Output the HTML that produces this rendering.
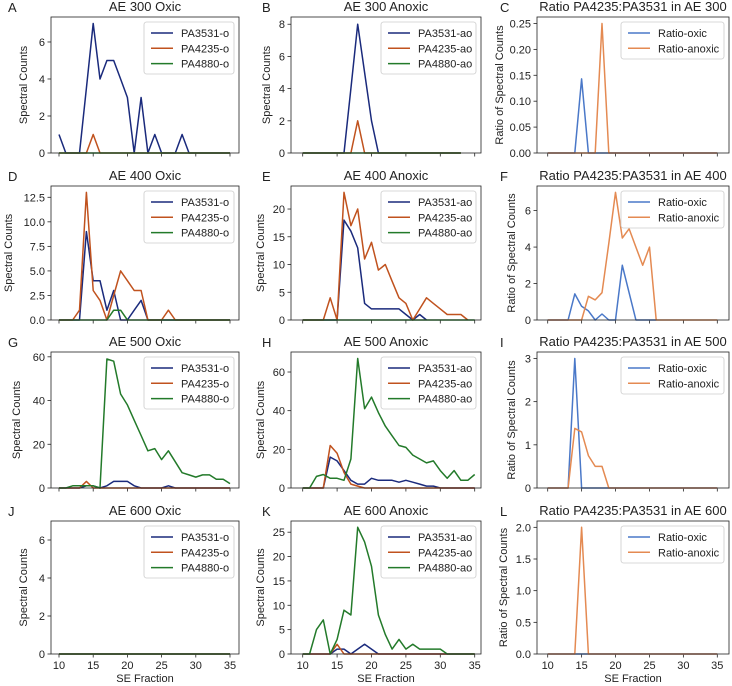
<!DOCTYPE html>
<html><head><meta charset="utf-8"><style>
html,body{margin:0;padding:0;background:#fff;}
svg{display:block;font-family:"Liberation Sans","DejaVu Sans",sans-serif;}
</style></head><body>
<svg id="fig" width="732" height="686" viewBox="0 0 732 686" xmlns="http://www.w3.org/2000/svg"></svg>
<script>
// x categories (SE fraction) start at 10
const xStart = 10;
// Panel A: AE 300 Oxic
const aBlue = [1,0,0,0,3.5,7,4,5,5,4,3,0,3,0,1,0,0,0,1,0,0,0,0,0,0,0];
const aOrange = [0,0,0,0,0,1,0,0,0,0,0,0,0,0,0,0,0,0,0,0,0,0,0,0,0,0];
const aGreen = [0,0,0,0,0,0,0,0,0,0,0,0,0,0,0,0,0,0,0,0,0,0,0,0,0,0];
// Panel B: AE 300 Anoxic
const bBlue = [0,0,0,0,0,0,0,4,8,5,2,0,0,0,0,0,0,0,0,0,0,0,0,0];
const bOrange = [0,0,0,0,0,0,0,0,2,0,0,0,0,0,0,0,0,0,0,0,0,0,0,0];
const bGreen = [0,0,0,0,0,0,0,0,0,0,0,0,0,0,0,0,0,0,0,0,0,0,0,0];
// Panel C: ratio AE 300
const cOxic = [0,0,0,0,0,0.143,0,0,0,0,0,0,0,0,0,0,0,0,0,0,0,0,0,0,0,0];
const cAnoxic = [0,0,0,0,0,0,0,0,0.25,0,0,0,0,0,0,0,0,0,0,0,0,0,0,0,0,0];
// Panel D: AE 400 Oxic
const dBlue = [0,0,0,0,9,4,4,1,3,0,0,1,2,0,0,0,0,0,0,0,0,0,0,0,0,0];
const dOrange = [0,0,0,1,13,3,2,0,2.5,5,4,3,3,0,0,0,1,0,0,0,0,0,0,0,0,0];
const dGreen = [0,0,0,0,0,0,0,0,1,1,0,0,0,0,0,0,0,0,0,0,0,0,0,0,0,0];
// Panel E: AE 400 Anoxic
const eBlue = [0,0,0,0,0,0,18,16,13,3,2,2,2,2,2,1,0,1,0];
const eOrange = [0,0,0,0,4,0,23,17,20,11,14,9,10,7,4,3,0,2,4,3,2,1,1,1,0];
const eGreen = [0,0,0,0,0,0,0,0,0,0,0,0,0,0,0,0,0,0,0,0,0,0,0,0,0,0];
// Panel F: ratio AE 400
const fOxic = [0,0,0,0,1.43,0.75,0.5,0,0.33,0,0,3,1.5,0,0,0,0];
const fAnoxic = [0,0,0,0,0,0,1.3,1.1,1.5,4.2,7,4.5,5,4,3,4,0,0,0,0,0,0,0,0,0,0];
// Panel G: AE 500 Oxic
const gBlue = [0,0,0,0,1,1,0,1,3,3,3,1,0,0,0,0,1,0,0,0,0,0,0,0,0,0];
const gOrange = [0,0,0,0,3,0,0,0,0,0,0,0,0,0,0,0,0,0,0,0,0,0,0,0,0,0];
const gGreen = [0,0,1,1,1,1,0,59,58,43,38,31,24,17,18,13,17,12,7,6,5,6,6,4,4,2];
// Panel H: AE 500 Anoxic
const hBlue = [0,0,0,0,16,14,9,4,2,2,5,4,4,4,3,4,3,2,1,1,0,0,0,0,0,0];
const hOrange = [0,0,0,0,22,18,8,2,1,0,0,0,0,0,0,0,0,0,0,0,0,0,0,0,0,0];
const hGreen = [0,0,6,7,5,5,4,15,67,41,47,39,32,27,22,21,17,15,13,14,9,5,9,4,4,7];
// Panel I: ratio AE 500
const iOxic = [0,0,0,0,3,0,0,0,0,0,0,0,0,0,0,0,0,0,0,0,0,0,0,0,0,0];
const iAnoxic = [0,0,0,0,1.38,1.3,0.75,0.5,0.5,0,0,0,0,0,0,0,0,0,0,0,0,0,0,0,0,0];
// Panel J: AE 600 Oxic
const jBlue = [0,0,0,0,0,0,0,0,0,0,0,0,0,0,0,0,0,0,0,0,0,0,0,0,0,0];
const jOrange = [0,0,0,0,0,0,0,0,0,0,0,0,0,0,0,0,0,0,0,0,0,0,0,0,0,0];
const jGreen = [0,0,0,0,0,0,0,0,0,0,0,0,0,0,0,0,0,0,0,0,0,0,0,0,0,0];
// Panel K: AE 600 Anoxic
const kBlue = [0,0,0,0,0,1,1,0,1,2,1,0,0,0,0,0,0,0,0,0,0,0,0,0,0,0];
const kOrange = [0,0,0,0,0,2,0,0,0,0,0,0,0,0,0,0,0,0,0,0,0,0,0,0,0,0];
const kGreen = [0,0,5,7,0,3,9,8,26,23,18,8,4,1,3,1,2,1,1,1,1,0,0,0,0,0];
// Panel L: ratio AE 600
const lOxic = [0,0,0,0,0,0,0,0,0,0,0,0,0,0,0,0,0,0,0,0,0,0,0,0,0,0];
const lAnoxic = [0,0,0,0,0,2,0,0,0,0,0,0,0,0,0,0,0,0,0,0,0,0,0,0,0,0];
// tick labels
const xTicks = [10,15,20,25,30,35];
const yTicksA = [0,2,4,6];
const yTicksB = [0,2,4,6,8];
const yTicksC = [0,0.05,0.10,0.15,0.20,0.25];
const yTicksD = [0,2.5,5,7.5,10,12.5];
const yTicksE = [0,5,10,15,20];
const yTicksF = [0,2,4,6];
const yTicksG = [0,20,40,60];
const yTicksH = [0,20,40,60];
const yTicksI = [0,1,2,3];
const yTicksJ = [0,2,4,6];
const yTicksK = [0,5,10,15,20,25];
const yTicksL = [0,0.5,1.0,1.5,2.0];

const NS = "http://www.w3.org/2000/svg";
const svg = document.getElementById('fig');
function mk(tag, attrs, parent){ const e=document.createElementNS(NS,tag); for(const k in attrs) e.setAttribute(k,attrs[k]); (parent||svg).appendChild(e); return e; }

const rowTop=[17,186,352,521], rowBot=[153,320,488,654];
const colL=[51,291,537], colR=[239,481,729];
const colX10=[59,302.7,547.7], colX35=[230,474.7,717.3];
const BLUE='#1a2a7c', ORANGE='#c0521e', GREEN='#237a2a', RB='#4a78c8', RO='#e48a52';

const panels=[
 {r:0,c:0,L:'A',t:'AE 300 Oxic',yl:'Spectral Counts',ylx:27,ymax:7.35,yt:yTicksA,dec:0,s:[[aBlue,BLUE,'PA3531-o'],[aOrange,ORANGE,'PA4235-o'],[aGreen,GREEN,'PA4880-o']]},
 {r:0,c:1,L:'B',t:'AE 300 Anoxic',yl:'Spectral Counts',ylx:270,ymax:8.45,yt:yTicksB,dec:0,s:[[bBlue,BLUE,'PA3531-ao'],[bOrange,ORANGE,'PA4235-ao'],[bGreen,GREEN,'PA4880-ao']]},
 {r:0,c:2,L:'C',t:'Ratio PA4235:PA3531 in AE 300',yl:'Ratio of Spectral Counts',ylx:503,ymax:0.2625,yt:yTicksC,dec:2,s:[[cOxic,RB,'Ratio-oxic'],[cAnoxic,RO,'Ratio-anoxic']]},
 {r:1,c:0,L:'D',t:'AE 400 Oxic',yl:'Spectral Counts',ylx:12,ymax:13.65,yt:yTicksD,dec:1,s:[[dBlue,BLUE,'PA3531-o'],[dOrange,ORANGE,'PA4235-o'],[dGreen,GREEN,'PA4880-o']]},
 {r:1,c:1,L:'E',t:'AE 400 Anoxic',yl:'Spectral Counts',ylx:264,ymax:24.15,yt:yTicksE,dec:0,s:[[eBlue,BLUE,'PA3531-ao'],[eOrange,ORANGE,'PA4235-ao'],[eGreen,GREEN,'PA4880-ao']]},
 {r:1,c:2,L:'F',t:'Ratio PA4235:PA3531 in AE 400',yl:'Ratio of Spectral Counts',ylx:515,ymax:7.35,yt:yTicksF,dec:0,s:[[fOxic,RB,'Ratio-oxic'],[fAnoxic,RO,'Ratio-anoxic']]},
 {r:2,c:0,L:'G',t:'AE 500 Oxic',yl:'Spectral Counts',ylx:20,ymax:62.2,yt:yTicksG,dec:0,s:[[gBlue,BLUE,'PA3531-o'],[gOrange,ORANGE,'PA4235-o'],[gGreen,GREEN,'PA4880-o']]},
 {r:2,c:1,L:'H',t:'AE 500 Anoxic',yl:'Spectral Counts',ylx:264,ymax:70.35,yt:yTicksH,dec:0,s:[[hBlue,BLUE,'PA3531-ao'],[hOrange,ORANGE,'PA4235-ao'],[hGreen,GREEN,'PA4880-ao']]},
 {r:2,c:2,L:'I',t:'Ratio PA4235:PA3531 in AE 500',yl:'Ratio of Spectral Counts',ylx:515,ymax:3.15,yt:yTicksI,dec:0,s:[[iOxic,RB,'Ratio-oxic'],[iAnoxic,RO,'Ratio-anoxic']]},
 {r:3,c:0,L:'J',t:'AE 600 Oxic',yl:'Spectral Counts',ylx:27,ymax:7,yt:yTicksJ,dec:0,s:[[jBlue,BLUE,'PA3531-o'],[jOrange,ORANGE,'PA4235-o'],[jGreen,GREEN,'PA4880-o']]},
 {r:3,c:1,L:'K',t:'AE 600 Anoxic',yl:'Spectral Counts',ylx:264,ymax:27.3,yt:yTicksK,dec:0,s:[[kBlue,BLUE,'PA3531-ao'],[kOrange,ORANGE,'PA4235-ao'],[kGreen,GREEN,'PA4880-ao']]},
 {r:3,c:2,L:'L',t:'Ratio PA4235:PA3531 in AE 600',yl:'Ratio of Spectral Counts',ylx:507,ymax:2.1,yt:yTicksL,dec:1,s:[[lOxic,RB,'Ratio-oxic'],[lAnoxic,RO,'Ratio-anoxic']]}
];

panels.forEach(p=>{
  const top=rowTop[p.r], bot=rowBot[p.r], L=colL[p.c], R=colR[p.c];
  const sx=v=>colX10[p.c]+(v-10)*(colX35[p.c]-colX10[p.c])/25;
  const sy=v=>bot-(v/p.ymax)*(bot-top);
  const g=mk('g',{});
  
  
  const lt=mk('text',{x:p.c==0?8:(p.c==1?262:500),y:top-5,'font-size':13,fill:'#222'},g); lt.textContent=p.L;
  
  
  const tt=mk('text',{x:(L+R)/2,y:top-6,'font-size':13,fill:'#222','text-anchor':'middle'},g); tt.textContent=p.t;
  
  
  const ylx=p.ylx;
  const yl=mk('text',{x:ylx,y:(top+bot)/2,'font-size':11,fill:'#222','text-anchor':'middle',transform:`rotate(-90 ${ylx} ${(top+bot)/2})`},g); yl.textContent=p.yl;
  
  
  p.yt.forEach(v=>{
    const y=sy(v);
    const tk=mk('line',{x1:L-3.5,x2:L,y1:y,y2:y,stroke:'#222','stroke-width':0.8},g);
    
    
    const tl=mk('text',{x:L-6,y:y+4,'font-size':11,fill:'#222','text-anchor':'end'},g); tl.textContent=v.toFixed(p.dec);
    
    
  });
  xTicks.forEach(v=>{
    const x=sx(v);
    const tk=mk('line',{x1:x,x2:x,y1:bot,y2:bot+3.5,stroke:'#222','stroke-width':0.8},g);
    
    
    if(p.r==3){
      const tl=mk('text',{x:x,y:bot+15,'font-size':11,fill:'#222','text-anchor':'middle'},g); tl.textContent=v;
      
      
    }
  });
  if(p.r==3){
    const xl=mk('text',{x:(L+R)/2,y:682,'font-size':11,fill:'#222','text-anchor':'middle'},g); xl.textContent='SE Fraction';
    
    
  }
  p.s.forEach(s=>{
    const pts=s[0].map((v,i)=>sx(xStart+i).toFixed(1)+','+sy(v).toFixed(1)).join(' ');
    const pl=mk('polyline',{points:pts,fill:'none',stroke:s[1],'stroke-width':1.5,'stroke-linejoin':'round'},g);
    
    
  });
  const fr=mk('rect',{x:L,y:top,width:R-L,height:bot-top,fill:'none',stroke:'#222','stroke-width':0.8},g);
  
  
  // legend
  const n=p.s.length;
  const lw=p.c==0?90:(p.c==1?95:103);
  const lx=R-lw-5, ly=top+5, lh=n*15+7;
  const lg=mk('g',{},g);
  
  
  mk('rect',{x:lx,y:ly,width:lw,height:lh,rx:2.5,fill:'#fff','fill-opacity':0.85,stroke:'#ccc','stroke-width':0.8},lg);
  p.s.forEach((s,i)=>{
    const yy=ly+11+i*15.3;
    const e=mk('g',{},lg);
    
    
    mk('line',{x1:lx+7,x2:lx+29,y1:yy,y2:yy,stroke:s[1],'stroke-width':1.5},e);
    const t=mk('text',{x:lx+37,y:yy+4,'font-size':11,fill:'#222'},e); t.textContent=s[2];
  });
});
</script>
</body></html>
